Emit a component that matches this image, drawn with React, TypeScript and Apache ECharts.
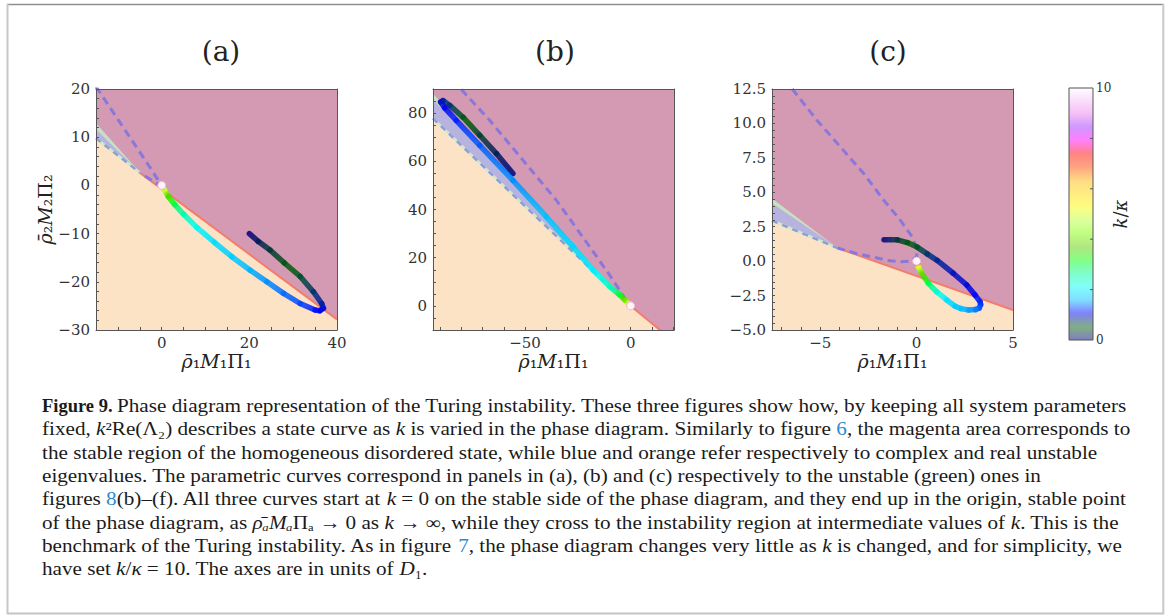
import React, { useEffect, useRef } from "react";
import * as echarts from "echarts";

// ---------------- data ----------------
const panelTitles = ["(a)", "(b)", "(c)"];
const xMins = [-15, -93.5, -7.5];
const xMaxs = [40, 20.5, 5];
const yMins = [-30, -10, -5];
const yMaxs = [20, 90, 12.5];
const xTickLabels = [[0, 20, 40], [-50, 0], [-5, 0, 5]];
const yTickLabels = [
  [-30, -20, -10, 0, 10, 20],
  [0, 20, 40, 60, 80],
  [-5, -2.5, 0, 2.5, 5, 7.5, 10, 12.5],
];
const xMinorTicks = [
  [-15, -10, -5, 0, 5, 10, 15, 20, 25, 30, 35, 40],
  [-90, -80, -70, -60, -50, -40, -30, -20, -10, 0, 10, 20],
  [-7, -6, -5, -4, -3, -2, -1, 0, 1, 2, 3, 4, 5],
];
const yMinorTicks = [
  [-30, -28, -26, -24, -22, -20, -18, -16, -14, -12, -10, -8, -6, -4, -2, 0, 2, 4, 6, 8, 10, 12, 14, 16, 18, 20],
  [-10, -5, 0, 5, 10, 15, 20, 25, 30, 35, 40, 45, 50, 55, 60, 65, 70, 75, 80, 85, 90],
  [-5, -4.5, -4, -3.5, -3, -2.5, -2, -1.5, -1, -0.5, 0, 0.5, 1, 1.5, 2, 2.5, 3, 3.5, 4, 4.5, 5, 5.5, 6, 6.5, 7, 7.5, 8, 8.5, 9, 9.5, 10, 10.5, 11, 11.5, 12, 12.5],
];

// panel (a)
const peachA = [[-15, -30], [-15, 9.6], [-4.8, 2.5], [40, -27.8], [40, -30]];
const blueA = [[-15, 9.6], [-15, 11.6], [-4.8, 2.5]];
const greenA = [[-15, 11.6], [-15, 12.9], [-4.8, 2.5]];
const edgeA = [[-15, 9.8], [-4.8, 2.5]];
const redA = [[-4.8, 2.5], [40, -27.8]];
const dashedA = [[-15, 20.5], [-10, 13.7], [-5, 6.9], [-2, 2.8], [-0.7, 0.9], [-0.1, -0.1], [-1.5, 0.6], [-3, 1.5], [-4.8, 2.5]];
const curveA = [
  [20, -10, 0], [22, -11.6, 0.15], [24.7, -13.4, 0.3], [28, -16.1, 0.45], [31.6, -18.9, 0.6],
  [34.6, -22.05, 0.75], [36.5, -24.5, 0.88], [36.9, -25.5, 0.97], [36.1, -26.0, 1.05], [35, -25.85, 1.1],
  [31.6, -24.5, 1.25], [27.8, -22.4, 1.35], [24, -20, 1.45], [20.2, -17.6, 1.55], [16, -14.8, 1.7],
  [12, -11.8, 1.85], [8, -8.7, 2.1], [5, -6.0, 2.5], [3, -4.0, 2.9], [1.5, -2.3, 3.5],
  [0.6, -0.9, 4.8], [0.2, -0.2, 7], [0, 0, 10],
];

// panel (b)
const peachB = [[-93.5, -10], [-93.5, 77.5], [-4, 2.9], [13.9, -10]];
const blueB = [[-93.5, 77.5], [-93.5, 85.6], [-4, 2.9]];
const greenB = [[-93.5, 85.6], [-93.5, 88], [-4, 2.9]];
const edgeB = [[-93.5, 77.8], [-4, 2.9]];
const redB = [[-4, 2.9], [20.5, -14.8]];
const dashedB = [[-80.1, 89.8], [-66.7, 77], [-50.9, 60.4], [-35.2, 43.9], [-19.4, 24.6], [-8.4, 10.8], [-1.3, 1.1], [0, 0]];
const curveB = [
  [-55.7, 54.9, 0], [-63.5, 63.2, 0.15], [-71.4, 70.8, 0.35], [-79.3, 78.3, 0.55], [-85.6, 83.2, 0.75],
  [-88.8, 85.2, 0.85], [-89.9, 84.6, 0.95], [-88, 82.2, 1.05], [-82.5, 77, 1.15], [-71.4, 66.6, 1.3],
  [-55.7, 52.1, 1.45], [-39.9, 37, 1.6], [-27.3, 24.6, 1.8], [-17.8, 14.9, 2.0], [-9.9, 8, 2.4],
  [-5.2, 4.6, 3.0], [-2.4, 2.2, 4], [-0.8, 0.8, 5.5], [0, 0, 10],
];

// panel (c)
const peachC = [[-7.5, -5], [-7.5, 2.9], [-4.1, 0.95], [5, -3.55], [5, -5]];
const blueC = [[-7.5, 2.9], [-7.5, 4.2], [-4.1, 0.95]];
const greenC = [[-7.5, 4.2], [-7.5, 4.55], [-4.1, 0.95]];
const edgeC = [[-7.5, 2.95], [-4.1, 0.95]];
const redC = [[-4.1, 0.95], [5, -3.55]];
const dashedC = [
  [-6.45, 12.5], [-5.15, 10.2], [-3.94, 8.28], [-2.73, 6.34], [-1.69, 4.4], [-0.83, 2.95], [-0.22, 1.74],
  [0.02, 0.9], [0, 0.3], [-0.3, 0.0], [-0.8, -0.05], [-1.5, 0.05], [-2.1, 0.25], [-3.1, 0.55], [-4.1, 0.95],
];
const curveC = [
  [-1.69, 1.55, 0], [-1.0, 1.55, 0.3], [-0.48, 1.35, 0.45], [0.03, 1.02, 0.6], [0.55, 0.53, 0.75],
  [1.07, 0.05, 0.85], [1.9, -0.88, 0.95], [2.6, -1.73, 1.0], [3.03, -2.46, 1.08], [3.29, -2.94, 1.15],
  [3.32, -3.15, 1.2], [3.25, -3.4, 1.3], [3.05, -3.52, 1.4], [2.7, -3.55, 1.5], [2.3, -3.45, 1.6],
  [2.0, -3.28, 1.7], [1.56, -2.82, 1.9], [1.04, -2.22, 2.3], [0.61, -1.61, 2.9], [0.26, -0.88, 3.8],
  [0.09, -0.4, 5], [0, 0, 10],
];

const peaches = [peachA, peachB, peachC];
const blues = [blueA, blueB, blueC];
const greens = [greenA, greenB, greenC];
const edges = [edgeA, edgeB, edgeC];
const reds = [redA, redB, redC];
const dashes = [dashedA, dashedB, dashedC];
const curves = [curveA, curveB, curveC];
const origins = [[[0, 0]], [[0, 0]], [[0, 0]]];

const colorbarTicks = [0, 2, 4, 6, 8, 10];
const kMax = 10;

const captionHead = "Figure 9.";
const captionLines = [
  "Phase diagram representation of the Turing instability. These three figures show how, by keeping all system parameters",
  "fixed, {i|k}²Re(Λ₂) describes a state curve as {i|k} is varied in the phase diagram. Similarly to figure {l|6}, the magenta area corresponds to",
  "the stable region of the homogeneous disordered state, while blue and orange refer respectively to complex and real unstable",
  "eigenvalues. The parametric curves correspond in panels in (a), (b) and (c) respectively to the unstable (green) ones in",
  "figures {l|8}(b)–(f). All three curves start at {i|k} = 0 on the stable side of the phase diagram, and they end up in the origin, stable point",
  "of the phase diagram, as {i|ρ̄ₐMₐ}Πₐ → 0 as {i|k} → ∞, while they cross to the instability region at intermediate values of {i|k}. This is the",
  "benchmark of the Turing instability. As in figure {l|7}, the phase diagram changes very little as {i|k} is changed, and for simplicity, we",
  "have set {i|k}/{i|κ} = 10. The axes are in units of {i|D}₁.",
];

// ---------------- styles ----------------
const GRID_LEFT = [96, 433, 772];
const GRID_TOP = 89;
const GRID_SIZE = 241;
const TITLE_X = [216, 550, 883];
const MAGENTA = "#d59ab3";
const PEACH = "#fde3c5";
const BLUE_WEDGE = "#b7b2de";
const GREEN_WEDGE = "#c6e0c6";
const RED = "#f27d6b";
const PURPLE = "#8977da";
const BLUE_DASH = "#8a9ed9";
const PALE_GREEN = "#d3e8cb";
const AXIS = "#555555";
const SERIF = "DejaVu Serif";
const CAPTION_FONT = "Liberation Serif";
const CAPTION_SIZE = 18.5;
const CAPTION_STRETCH = 1.145;

// gist_ncar colormap tables
const NCAR_R = [[0, 0], [0.3098, 0], [0.3725, 0.3993], [0.4235, 0.5003], [0.5333, 1], [0.7922, 1], [0.8471, 0.6218], [0.898, 0.9235], [1, 0.9961]];
const NCAR_G = [[0, 0], [0.051, 0.3722], [0.1059, 0], [0.1569, 0.7202], [0.1608, 0.7537], [0.1647, 0.7752], [0.2157, 1], [0.2588, 0.9804], [0.2706, 0.9804], [0.3176, 1], [0.3686, 0.8081], [0.4275, 1], [0.5216, 1], [0.6314, 0.7292], [0.6863, 0.2796], [0.7451, 0], [0.7922, 0], [0.8431, 0.1753], [0.898, 0.5], [1, 0.9725]];
const NCAR_B = [[0, 0.502], [0.051, 0.0222], [0.1098, 1], [0.2039, 1], [0.2627, 0.6145], [0.3216, 0], [0.4157, 0], [0.4745, 0.2342], [0.5333, 0], [0.5804, 0], [0.6314, 0.0549], [0.6902, 0], [0.7373, 0], [0.7922, 0.9725], [0.8, 1], [0.8431, 1], [0.898, 0.9341], [1, 0.9961]];

function interp(table: number[][], t: number) {
  if (t <= table[0][0]) return table[0][1];
  for (let i = 1; i < table.length; i++) {
    if (t <= table[i][0]) {
      const [t0, v0] = table[i - 1];
      const [t1, v1] = table[i];
      return v0 + ((v1 - v0) * (t - t0)) / (t1 - t0);
    }
  }
  return table[table.length - 1][1];
}
function ncar(t: number, alpha = 1) {
  const c = [interp(NCAR_R, t), interp(NCAR_G, t), interp(NCAR_B, t)].map((v) =>
    Math.round(255 * (alpha * v + (1 - alpha)))
  );
  return `rgb(${c[0]},${c[1]},${c[2]})`;
}

const fmtMinus = (s: string) => s.replace("-", "\u2212");

function polySeries(i: number, pts: number[][], color: string, z: number) {
  return {
    type: "custom",
    xAxisIndex: 2 * i,
    yAxisIndex: 2 * i,
    z,
    silent: true,
    clip: true,
    data: pts,
    renderItem: (params: any, api: any) => {
      if (params.dataIndex !== 0) return;
      const points = pts.map((p) => api.coord(p));
      return { type: "polygon", shape: { points }, style: { fill: color } };
    },
  };
}

function lineSeries(i: number, pts: number[][], style: any, z: number) {
  return {
    type: "line",
    xAxisIndex: 2 * i,
    yAxisIndex: 2 * i,
    z,
    silent: true,
    symbol: "none",
    showSymbol: false,
    clip: true,
    data: pts,
    lineStyle: style,
  };
}

function curveSeries(i: number, pts: number[][]) {
  const segs = pts.slice(1).map((p, j) => [pts[j][0], pts[j][1], p[0], p[1], pts[j][2], p[2]]);
  return {
    type: "custom",
    xAxisIndex: 2 * i,
    yAxisIndex: 2 * i,
    z: 8,
    silent: true,
    clip: true,
    encode: { x: [0, 2], y: [1, 3] },
    data: segs,
    renderItem: (params: any, api: any) => {
      const p1 = api.coord([api.value(0), api.value(1)]);
      const p2 = api.coord([api.value(2), api.value(3)]);
      const k1 = api.value(4);
      const k2 = api.value(5);
      const stops = [];
      const n = 6;
      for (let s = 0; s <= n; s++) {
        const k = k1 + ((k2 - k1) * s) / n;
        stops.push({ offset: s / n, color: ncar(k / kMax) });
      }
      const grad = new echarts.graphic.LinearGradient(p1[0], p1[1], p2[0] + 0.01, p2[1] + 0.01, stops, true);
      return {
        type: "line",
        shape: { x1: p1[0], y1: p1[1], x2: p2[0], y2: p2[1] },
        style: { stroke: grad, lineWidth: 5.5, lineCap: "round", opacity: 0.85 },
      };
    },
  };
}

function buildOption() {
  const grid: any[] = [];
  const xAxis: any[] = [];
  const yAxis: any[] = [];
  const series: any[] = [];
  const title: any[] = [];
  const nameStyle = {
    fontFamily: SERIF,
    fontSize: 19,
    color: "#222",
    rich: { i: { fontFamily: SERIF, fontSize: 19, fontStyle: "italic", color: "#222" } },
  };
  for (let i = 0; i < 3; i++) {
    grid.push({
      left: GRID_LEFT[i],
      top: GRID_TOP,
      width: GRID_SIZE,
      height: GRID_SIZE,
      show: true,
      backgroundColor: MAGENTA,
      borderWidth: 0,
    });
    title.push({
      text: panelTitles[i],
      left: TITLE_X[i],
      top: 32,
      textAlign: "center",
      textStyle: { fontFamily: SERIF, fontSize: 28, fontWeight: "normal", color: "#222" },
    });
    const lblStyle = { fontFamily: SERIF, fontSize: 15, color: "#333" };
    xAxis.push({
      type: "value",
      gridIndex: i,
      min: xMins[i],
      max: xMaxs[i],
      position: "bottom",
      z: 10,
      axisLine: { show: true, onZero: false, lineStyle: { color: AXIS, width: 1 } },
      axisTick: { show: true, inside: true, length: 3, customValues: xMinorTicks[i], lineStyle: { color: AXIS } },
      axisLabel: { show: true, customValues: xTickLabels[i], margin: 5, formatter: (v: number) => fmtMinus(String(v)), ...lblStyle },
      splitLine: { show: false },
      name: "{i|ρ̄}₁{i|M}₁Π₁",
      nameLocation: "middle",
      nameGap: 21,
      nameTextStyle: nameStyle,
    });
    xAxis.push({
      type: "value",
      gridIndex: i,
      min: xMins[i],
      max: xMaxs[i],
      position: "top",
      z: 10,
      axisLine: { show: true, onZero: false, lineStyle: { color: AXIS, width: 1 } },
      axisTick: { show: false },
      axisLabel: { show: false },
      splitLine: { show: false },
    });
    yAxis.push({
      type: "value",
      gridIndex: i,
      min: yMins[i],
      max: yMaxs[i],
      position: "left",
      z: 10,
      axisLine: { show: true, onZero: false, lineStyle: { color: AXIS, width: 1 } },
      axisTick: { show: true, inside: true, length: 3, customValues: yMinorTicks[i], lineStyle: { color: AXIS } },
      axisLabel: {
        show: true,
        customValues: yTickLabels[i],
        margin: 6,
        formatter: (v: number) => fmtMinus(i === 2 ? v.toFixed(1) : String(v)),
        ...lblStyle,
      },
      splitLine: { show: false },
      ...(i === 0
        ? { name: "{i|ρ̄}₂{i|M}₂Π₂", nameLocation: "middle", nameGap: 27, nameTextStyle: nameStyle }
        : {}),
    });
    yAxis.push({
      type: "value",
      gridIndex: i,
      min: yMins[i],
      max: yMaxs[i],
      position: "right",
      z: 10,
      axisLine: { show: true, onZero: false, lineStyle: { color: AXIS, width: 1 } },
      axisTick: { show: false },
      axisLabel: { show: false },
      splitLine: { show: false },
    });

    series.push(polySeries(i, peaches[i], PEACH, 1));
    series.push(polySeries(i, blues[i], BLUE_WEDGE, 1));
    series.push(polySeries(i, greens[i], GREEN_WEDGE, 1));
    series.push(lineSeries(i, edges[i], { color: PALE_GREEN, width: 2.5 }, 3));
    series.push(lineSeries(i, edges[i], { color: BLUE_DASH, width: 2.5, type: [6, 5] }, 4));
    series.push(lineSeries(i, reds[i], { color: RED, width: 2 }, 4));
    series.push(lineSeries(i, dashes[i], { color: PURPLE, width: 3, type: [8, 5] }, 5));
    series.push(curveSeries(i, curves[i]));
    series.push({
      type: "scatter",
      xAxisIndex: 2 * i,
      yAxisIndex: 2 * i,
      z: 9,
      silent: true,
      symbolSize: 8,
      data: origins[i],
      itemStyle: { color: "#fdf4fb", borderColor: "#efb5d6", borderWidth: 1, opacity: 1 },
    });
  }

  // colorbar
  const cbX = 1069;
  const cbY = 88;
  const cbW = 24;
  const cbH = 252;
  const cbStops = [];
  for (let s = 0; s <= 100; s++) cbStops.push({ offset: s / 100, color: ncar(s / 100, 0.5) });
  const graphic: any[] = [
    {
      type: "rect",
      shape: { x: cbX, y: cbY, width: cbW, height: cbH },
      style: { fill: new echarts.graphic.LinearGradient(0, 1, 0, 0, cbStops), stroke: AXIS, lineWidth: 1 },
      z: 10,
    },
  ];
  colorbarTicks.forEach((k) => {
    const y = cbY + cbH - (k / kMax) * cbH;
    if (k !== 0 && k !== kMax) {
      graphic.push({ type: "line", shape: { x1: cbX + cbW - 3, y1: y, x2: cbX + cbW, y2: y }, style: { stroke: AXIS, lineWidth: 1 }, z: 11 });
    } else {
      graphic.push({
        type: "text",
        x: cbX + cbW + 3,
        y,
        style: { text: String(k), fontFamily: SERIF, fontSize: 12, fill: "#333", align: "left", verticalAlign: "middle" },
        z: 11,
      });
    }
  });
  graphic.push({
    type: "text",
    x: 1120,
    y: 214,
    rotation: Math.PI / 2,
    style: {
      text: "{i|k}/{i|κ}",
      fontFamily: SERIF,
      fontSize: 18,
      fill: "#222",
      align: "center",
      verticalAlign: "middle",
      rich: { i: { fontFamily: SERIF, fontSize: 18, fontStyle: "italic", fill: "#222" } },
    },
  });

  // caption
  const capRich = {
    i: { fontFamily: CAPTION_FONT, fontSize: CAPTION_SIZE, fontStyle: "italic", fill: "#1a1a1a" },
    l: { fontFamily: CAPTION_FONT, fontSize: CAPTION_SIZE, fill: "#2b8bd0" },
  };
  const lineY = (j: number) => 405.5 + j * 23.3;
  graphic.push({
    type: "text",
    x: 42,
    y: lineY(0),
    style: {
      text: captionHead,
      fontFamily: CAPTION_FONT,
      fontSize: CAPTION_SIZE,
      fontWeight: "bold",
      fill: "#1a1a1a",
      align: "left",
      verticalAlign: "middle",
    },
  });
  captionLines.forEach((line, j) => {
    graphic.push({
      type: "text",
      x: j === 0 ? 117 : 42,
      y: lineY(j),
      scaleX: CAPTION_STRETCH,
      style: {
        text: line,
        fontFamily: CAPTION_FONT,
        fontSize: CAPTION_SIZE,
        fill: "#1a1a1a",
        align: "left",
        verticalAlign: "middle",
        rich: capRich,
      },
    });
  });

  // figure frame
  graphic.push({ type: "line", shape: { x1: 7, y1: 4.5, x2: 1164, y2: 4.5 }, style: { stroke: "#8f8f8f", lineWidth: 1.5 } });
  graphic.push({ type: "line", shape: { x1: 7.5, y1: 4, x2: 7.5, y2: 614 }, style: { stroke: "#c8c8c8", lineWidth: 2 } });
  graphic.push({ type: "line", shape: { x1: 1163.3, y1: 4, x2: 1163.3, y2: 614 }, style: { stroke: "#c8c8c8", lineWidth: 2 } });
  graphic.push({ type: "line", shape: { x1: 7, y1: 613.5, x2: 1164, y2: 613.5 }, style: { stroke: "#c4c4c4", lineWidth: 2 } });

  return {
    animation: false,
    backgroundColor: "#ffffff",
    title,
    grid,
    xAxis,
    yAxis,
    series,
    graphic,
  };
}

export default function App() {
  const ref = useRef<HTMLDivElement>(null);
  useEffect(() => {
    const chart = echarts.init(ref.current as HTMLDivElement, undefined, { renderer: "svg" });
    chart.setOption(buildOption() as any);
    return () => chart.dispose();
  }, []);
  return (
    <div
      ref={ref}
      style={{ position: "absolute", left: 0, top: 0, width: 1167, height: 615, background: "#fff" }}
    />
  );
}
